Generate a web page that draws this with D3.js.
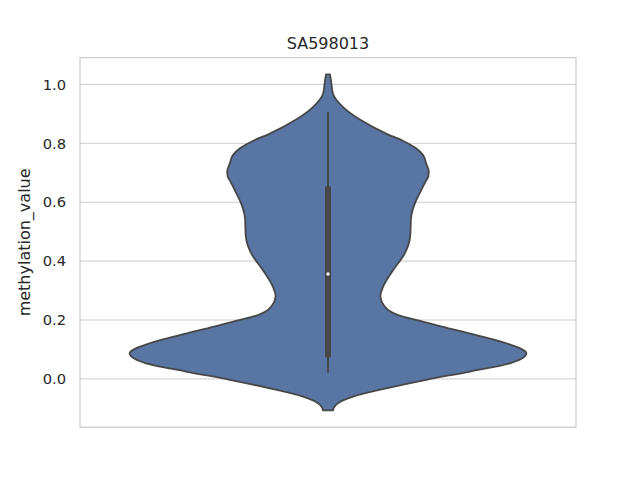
<!DOCTYPE html>
<html>
<head>
<meta charset="utf-8">
<script src="https://cdn.jsdelivr.net/npm/d3@7"></script>
<style>
  html, body { margin: 0; padding: 0; background: #ffffff; }
  text { font-family: "DejaVu Sans", sans-serif; }
</style>
</head>
<body>
<svg id="chart" width="640" height="480"></svg>
<script>
// ---- data ----
const title = "SA598013";
const yLabel = "methylation_value";
const categories = [""];
const yTicks = [0.0, 0.2, 0.4, 0.6, 0.8, 1.0];

// kernel density support grid (value) and relative density (max = 1)
const gridValues = [1.034, 1.014, 0.9685, 0.923, 0.878, 0.833, 0.808, 0.783, 0.759, 0.731,
  0.705, 0.686, 0.674, 0.641, 0.596, 0.550, 0.482, 0.426, 0.369, 0.313,
  0.283, 0.240, 0.215, 0.200, 0.177, 0.149, 0.121, 0.087, 0.053, 0.025,
  -0.003, -0.032, -0.060, -0.088, -0.107];
const densities = [0.010, 0.015, 0.025, 0.076, 0.167, 0.293, 0.379, 0.444, 0.480, 0.495,
  0.508, 0.505, 0.495, 0.470, 0.438, 0.419, 0.414, 0.387, 0.328, 0.278,
  0.264, 0.293, 0.360, 0.444, 0.579, 0.747, 0.899, 1.000, 0.917, 0.715,
  0.495, 0.293, 0.126, 0.040, 0.025];

// box summary: whisker low, q1, median, q3, whisker high
const whiskerLow = 0.021;
const q1 = 0.081;
const median = 0.356;
const q3 = 0.646;
const whiskerHigh = 0.906;

// ---- layout ----
const W = 640, H = 480;
const mLeft = 80, mRight = 576, mTop = 57.6, mBottom = 427.2;

const svg = d3.select("#chart");

const ext = d3.extent(gridValues);
const pad = (ext[1] - ext[0]) * 0.05;
const y = d3.scaleLinear().domain([ext[0] - pad, ext[1] + pad]).range([mBottom, mTop]);
const x = d3.scaleBand().domain(categories).range([mLeft, mRight]).padding(0);

const gridColor = "#cccccc";
const violinFill = "#5875a4";
const edgeColor = "#474747";

// grid lines
svg.append("g")
  .selectAll("line")
  .data(yTicks)
  .join("line")
  .attr("x1", mLeft).attr("x2", mRight)
  .attr("y1", d => y(d)).attr("y2", d => y(d))
  .attr("stroke", gridColor).attr("stroke-width", 1);

// axis (labels only, no tick marks)
const yAxis = d3.axisLeft(y).tickValues(yTicks).tickFormat(d3.format(".1f")).tickSize(0).tickPadding(14);
const ga = svg.append("g").attr("transform", `translate(${mLeft},0)`).call(yAxis);
ga.select(".domain").remove();
ga.selectAll("text")
  .attr("font-family", "DejaVu Sans, sans-serif")
  .attr("font-size", 14.7)
  .attr("fill", "#262626");

// violin
const cx = x("") + x.bandwidth() / 2;
const halfMax = x.bandwidth() * 0.8 / 2;
const w = d3.scaleLinear().domain([0, d3.max(densities)]).range([0, halfMax]);
const pts = gridValues.map((v, i) => ({ v, d: densities[i] }));

const area = d3.area()
  .y(p => y(p.v))
  .x0(p => cx - w(p.d))
  .x1(p => cx + w(p.d))
  .curve(d3.curveMonotoneY);

svg.append("path")
  .datum(pts)
  .attr("d", area)
  .attr("fill", violinFill)
  .attr("stroke", edgeColor)
  .attr("stroke-width", 1.8)
  .attr("stroke-linejoin", "round");

// whiskers
svg.append("line")
  .attr("x1", cx).attr("x2", cx)
  .attr("y1", y(whiskerLow)).attr("y2", y(whiskerHigh))
  .attr("stroke", edgeColor).attr("stroke-width", 1.8);

// box
svg.append("line")
  .attr("x1", cx).attr("x2", cx)
  .attr("y1", y(q1)).attr("y2", y(q3))
  .attr("stroke", edgeColor).attr("stroke-width", 6)
  .attr("stroke-linecap", "round");

// median
svg.append("circle")
  .attr("cx", cx).attr("cy", y(median)).attr("r", 1.7)
  .attr("fill", "#ffffff");

// frame
svg.append("rect")
  .attr("x", mLeft).attr("y", mTop)
  .attr("width", mRight - mLeft).attr("height", mBottom - mTop)
  .attr("fill", "none").attr("stroke", gridColor).attr("stroke-width", 1.25);

// title
svg.append("text")
  .attr("x", (mLeft + mRight) / 2).attr("y", mTop - 8.3)
  .attr("text-anchor", "middle")
  .attr("font-size", 16)
  .attr("fill", "#262626")
  .text(title);

// y label
svg.append("text")
  .attr("transform", `translate(30,${(mTop + mBottom) / 2}) rotate(-90)`)
  .attr("text-anchor", "middle")
  .attr("font-size", 16)
  .attr("fill", "#262626")
  .text(yLabel);
</script>
</body>
</html>
